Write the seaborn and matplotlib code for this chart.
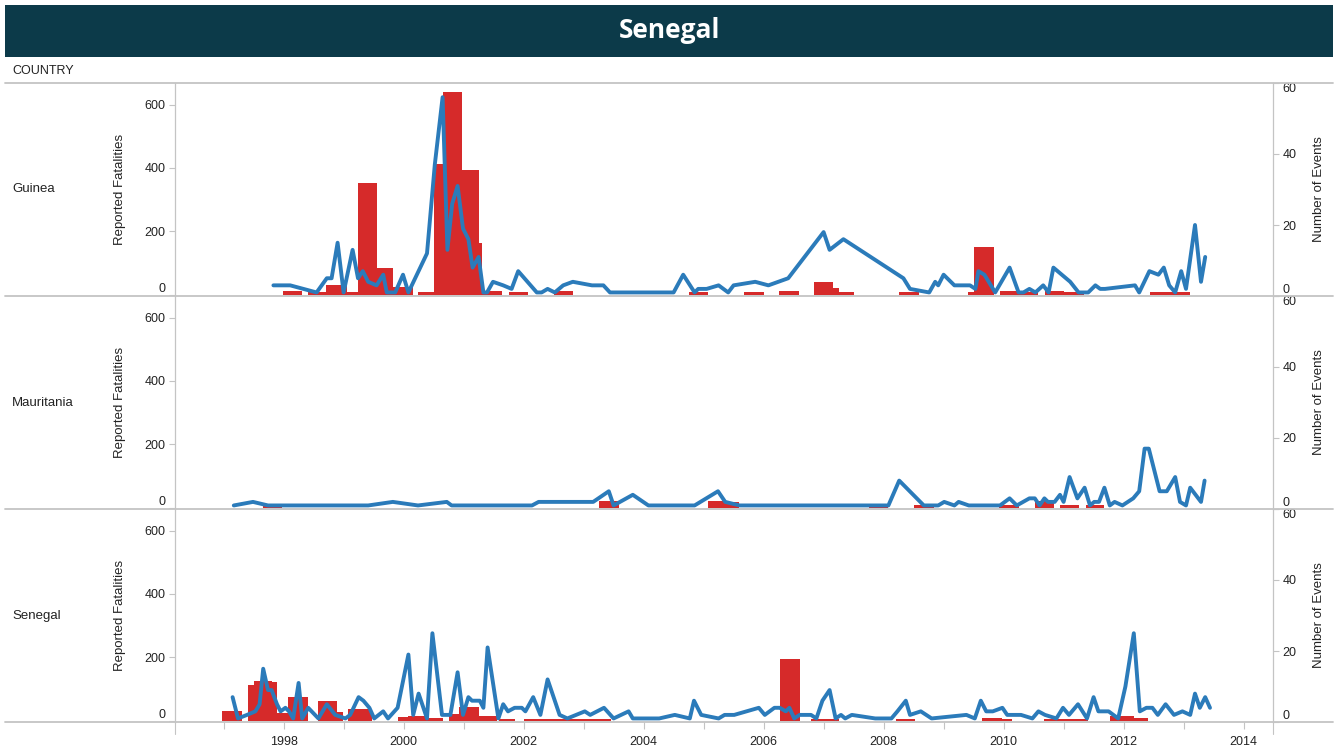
import matplotlib
matplotlib.use("Agg")
import matplotlib.pyplot as plt
from matplotlib.lines import Line2D
from matplotlib.patches import Rectangle
from matplotlib.ticker import MultipleLocator, FuncFormatter
import seaborn as sns
import pandas as pd

# Data (decimal years)
countries = ["Guinea", "Mauritania", "Senegal"]

# Number of events (line, right axis)
guinea_ev_x = [1997.83, 1998.11, 1998.33, 1998.55, 1998.72, 1998.80, 1998.90, 1999.00, 1999.15, 1999.24,
               1999.32, 1999.41, 1999.55, 1999.66, 1999.72, 1999.86, 1999.99, 2000.08, 2000.39, 2000.52,
               2000.65, 2000.73, 2000.81, 2000.90, 2000.99, 2001.08, 2001.15, 2001.25, 2001.33, 2001.39,
               2001.49, 2001.66, 2001.80, 2001.91, 2002.22, 2002.30, 2002.40, 2002.52, 2002.66, 2002.82,
               2003.14, 2003.33, 2003.44, 2004.50, 2004.66, 2004.85, 2004.91, 2005.05, 2005.25, 2005.41,
               2005.50, 2005.86, 2006.08, 2006.41, 2007.00, 2007.10, 2007.33, 2008.33, 2008.44, 2008.76,
               2008.86, 2008.91, 2009.00, 2009.18, 2009.44, 2009.53, 2009.58, 2009.68, 2009.86, 2010.10,
               2010.25, 2010.33, 2010.43, 2010.53, 2010.66, 2010.75, 2010.83, 2011.11, 2011.25, 2011.41,
               2011.53, 2011.61, 2011.69, 2012.19, 2012.26, 2012.43, 2012.58, 2012.67, 2012.76, 2012.86,
               2012.96, 2013.04, 2013.19, 2013.29, 2013.36]
guinea_ev_y = [3, 3, 2, 1, 5, 5, 15, 1, 13, 5,
               7, 4, 3, 6, 1, 1, 6, 1, 12, 37,
               56, 13, 26, 31, 19, 16, 8, 11, 1, 1,
               4, 3, 2, 7, 1, 1, 2, 1, 3, 4,
               3, 3, 1, 1, 6, 1, 2, 2, 3, 1,
               3, 4, 3, 5, 18, 13, 16, 5, 2, 1,
               4, 3, 6, 3, 3, 2, 7, 6, 1, 8,
               1, 1, 2, 1, 3, 1, 8, 4, 1, 1,
               3, 2, 2, 3, 1, 7, 6, 8, 3, 1,
               7, 2, 20, 4, 11]

mauritania_ev_x = [1997.17, 1997.49, 1997.74, 1999.41, 1999.82, 2000.24, 2000.72, 2000.80, 2002.14, 2002.25,
                   2003.16, 2003.42, 2003.50, 2003.82, 2004.08, 2004.85, 2005.24, 2005.36, 2005.60, 2008.08,
                   2008.26, 2008.67, 2008.91, 2009.01, 2009.18, 2009.25, 2009.42, 2009.94, 2010.10, 2010.22,
                   2010.43, 2010.52, 2010.60, 2010.68, 2010.74, 2010.85, 2010.94, 2011.00, 2011.10, 2011.23,
                   2011.35, 2011.44, 2011.51, 2011.59, 2011.68, 2011.77, 2011.85, 2011.98, 2012.16, 2012.26,
                   2012.35, 2012.42, 2012.60, 2012.72, 2012.86, 2012.94, 2013.04, 2013.11, 2013.29, 2013.35]
mauritania_ev_y = [1, 2, 1, 1, 2, 1, 2, 1, 1, 2,
                   2, 5, 1, 4, 1, 1, 5, 2, 1, 1,
                   8, 1, 1, 2, 1, 2, 1, 1, 3, 1,
                   3, 3, 1, 3, 2, 2, 4, 2, 9, 3,
                   6, 1, 2, 2, 6, 1, 2, 1, 3, 5,
                   17, 17, 5, 5, 9, 2, 1, 6, 2, 8]

senegal_ev_x = [1997.15, 1997.24, 1997.39, 1997.53, 1997.60, 1997.66, 1997.74, 1997.80, 1997.89, 1997.95,
                1998.03, 1998.09, 1998.16, 1998.25, 1998.31, 1998.41, 1998.58, 1998.72, 1998.86, 1999.03,
                1999.11, 1999.25, 1999.33, 1999.43, 1999.51, 1999.66, 1999.74, 1999.90, 2000.08, 2000.16,
                2000.25, 2000.39, 2000.48, 2000.64, 2000.78, 2000.90, 2000.99, 2001.08, 2001.14, 2001.19,
                2001.27, 2001.33, 2001.40, 2001.58, 2001.66, 2001.74, 2001.85, 2001.97, 2002.03, 2002.16,
                2002.28, 2002.40, 2002.60, 2002.73, 2003.02, 2003.11, 2003.34, 2003.50, 2003.75, 2003.82,
                2004.26, 2004.52, 2004.77, 2004.84, 2004.96, 2005.25, 2005.35, 2005.51, 2005.92, 2006.02,
                2006.18, 2006.27, 2006.37, 2006.43, 2006.51, 2006.60, 2006.79, 2006.88, 2006.98, 2007.10,
                2007.20, 2007.29, 2007.36, 2007.47, 2007.86, 2008.13, 2008.23, 2008.37, 2008.44, 2008.62,
                2008.80, 2009.38, 2009.52, 2009.62, 2009.71, 2009.82, 2009.98, 2010.06, 2010.29, 2010.48,
                2010.58, 2010.69, 2010.88, 2010.99, 2011.09, 2011.24, 2011.39, 2011.50, 2011.58, 2011.75,
                2011.91, 2012.03, 2012.17, 2012.27, 2012.38, 2012.48, 2012.57, 2012.70, 2012.84, 2012.98,
                2013.11, 2013.19, 2013.27, 2013.36, 2013.44]
senegal_ev_y = [7, 1, 2, 3, 5, 15, 9, 9, 5, 3,
                4, 3, 1, 11, 1, 4, 1, 5, 2, 1,
                2, 7, 6, 4, 1, 3, 1, 4, 19, 2,
                8, 1, 25, 2, 2, 14, 2, 7, 6, 6,
                6, 4, 21, 1, 5, 3, 4, 4, 3, 7,
                2, 12, 2, 1, 3, 2, 4, 1, 3, 1,
                1, 2, 1, 6, 2, 1, 2, 2, 4, 2,
                4, 4, 3, 4, 1, 2, 2, 1, 6, 9,
                1, 2, 1, 2, 1, 1, 3, 6, 2, 3,
                1, 2, 1, 6, 3, 3, 4, 2, 2, 1,
                3, 2, 1, 4, 2, 5, 1, 7, 3, 3,
                1, 10, 25, 3, 4, 4, 2, 5, 2, 3,
                2, 8, 4, 7, 4]

# Reported fatalities (bars, left axis): period start, period end, value
guinea_fat_start = [1997.99, 1998.41, 1998.71, 1999.06, 1999.24, 1999.55, 1999.83, 2000.24, 2000.50, 2000.65,
                    2000.98, 2001.25, 2001.31, 2001.75, 2002.50, 2004.75, 2005.68, 2006.26, 2006.84, 2007.16,
                    2007.26, 2008.26, 2009.41, 2009.51, 2009.94, 2010.28, 2010.69, 2011.01, 2012.44, 2012.78]
guinea_fat_end = [1998.31, 1998.71, 1999.06, 1999.24, 1999.55, 1999.83, 2000.16, 2000.50, 2000.65, 2000.98,
                  2001.25, 2001.31, 2001.64, 2002.07, 2002.83, 2005.08, 2006.01, 2006.59, 2007.16, 2007.26,
                  2007.50, 2008.59, 2009.51, 2009.84, 2010.28, 2010.58, 2011.01, 2011.34, 2012.78, 2013.11]
guinea_fat = [12, 8, 32, 8, 353, 83, 25, 8, 412, 639,
              394, 162, 12, 8, 12, 8, 8, 12, 40, 20,
              8, 8, 8, 150, 12, 8, 12, 8, 8, 8]

mauritania_fat_start = [1997.65, 2003.26, 2005.08, 2005.41, 2007.75, 2008.51, 2009.92, 2010.52, 2010.94, 2011.37]
mauritania_fat_end = [1997.98, 2003.59, 2005.41, 2005.59, 2008.08, 2008.84, 2010.25, 2010.84, 2011.25, 2011.68]
mauritania_fat = [8, 21, 21, 18, 8, 10, 8, 21, 8, 10]

senegal_fat_start = [1996.98, 1997.40, 1997.51, 1997.80, 1997.89, 1998.07, 1998.57, 1998.89, 1999.08, 1999.91,
                     2000.08, 2000.41, 2000.75, 2000.92, 2001.25, 2001.59, 2002.00, 2002.48, 2006.27, 2006.79,
                     2008.21, 2009.64, 2009.98, 2010.68, 2011.15, 2011.77, 2012.17]
senegal_fat_end = [1997.31, 1997.51, 1997.80, 1997.89, 1998.07, 1998.40, 1998.89, 1998.99, 1999.47, 2000.08,
                   2000.41, 2000.65, 2000.92, 2001.25, 2001.55, 2001.86, 2002.48, 2003.46, 2006.60, 2007.26,
                   2008.52, 2009.98, 2010.14, 2011.15, 2011.40, 2012.17, 2012.41]
senegal_fat = [30, 112, 126, 122, 25, 75, 63, 28, 36, 12,
               15, 10, 20, 42, 15, 6, 7, 6, 196, 7,
               7, 9, 6, 7, 6, 15, 8]

events = {
    "Guinea": pd.DataFrame({"date": guinea_ev_x, "events": guinea_ev_y}),
    "Mauritania": pd.DataFrame({"date": mauritania_ev_x, "events": mauritania_ev_y}),
    "Senegal": pd.DataFrame({"date": senegal_ev_x, "events": senegal_ev_y}),
}
fatalities = {
    "Guinea": pd.DataFrame({"start": guinea_fat_start, "end": guinea_fat_end, "fat": guinea_fat}),
    "Mauritania": pd.DataFrame({"start": mauritania_fat_start, "end": mauritania_fat_end, "fat": mauritania_fat}),
    "Senegal": pd.DataFrame({"start": senegal_fat_start, "end": senegal_fat_end, "fat": senegal_fat}),
}

sns.set_style("white")
plt.rcParams["font.family"] = ["Liberation Sans", "DejaVu Sans"]

W, H = 1338, 753
fig = plt.figure(figsize=(W / 100, H / 100), dpi=100)

BLUE = "#2b7bba"
RED = "#d62a2a"
GRID = "#c4c4c4"
TXT = "#222222"

# title banner
fig.patches.append(Rectangle((5 / W, 1 - 57 / H), 1328 / W, 52 / H, transform=fig.transFigure,
                             facecolor="#0c3a49", edgecolor="none", zorder=0))
fig.text(669 / W, 1 - 31 / H, "Senegal", color="white", fontsize=19, fontweight="bold",
         ha="center", va="center", family=["Open Sans", "DejaVu Sans"])
fig.text(12 / W, 1 - 71 / H, "COUNTRY", fontsize=9, color=TXT, va="center")

left_px, right_px = 175, 1273
tops = [83, 296, 509]
ph = 213

for i, c in enumerate(countries):
    top = tops[i]
    ax = fig.add_axes([left_px / W, 1 - (top + ph) / H, (right_px - left_px) / W, ph / H])
    fd = fatalities[c]
    ax.bar(fd["start"], fd["fat"], width=fd["end"] - fd["start"], align="edge",
           color=RED, linewidth=0, zorder=2)
    ax.set_xlim(1996.19, 2014.49)
    ax.set_ylim(-4, 668)
    ax.set_yticks([0, 200, 400, 600])
    ax.set_yticklabels(["0", "200", "400", "600"])
    ax.get_yticklabels()[0].set_va("bottom")
    ax.set_ylabel("Reported Fatalities", fontsize=9.5, color=TXT)
    ax.yaxis.set_label_coords(-0.045, 0.5)

    ax2 = ax.twinx()
    sns.lineplot(data=events[c], x="date", y="events", ax=ax2, color=BLUE, linewidth=2.8,
                 solid_joinstyle="round", solid_capstyle="round", zorder=3)
    ax2.set_ylim(0, 60)
    ax2.set_yticks([0, 20, 40, 60])
    ax2.set_yticklabels(["0", "20", "40", "60"])
    ax2.get_yticklabels()[0].set_va("bottom")
    ax2.get_yticklabels()[-1].set_va("top")
    ax2.set_ylabel("Number of Events", fontsize=9.5, color=TXT)
    ax2.yaxis.set_label_coords(1.036, 0.5)

    for a in (ax, ax2):
        for s in ("top", "bottom"):
            a.spines[s].set_visible(False)
        a.spines["left"].set_color(GRID)
        a.spines["right"].set_color(GRID)
        a.tick_params(axis="y", length=4, width=0.8, color=GRID, labelsize=9, labelcolor=TXT, pad=3)
        a.set_xlabel("")
    ax.patch.set_alpha(0)

    if i < 2:
        ax.tick_params(axis="x", bottom=False, labelbottom=False)
    else:
        ax.xaxis.set_major_locator(MultipleLocator(2))
        ax.xaxis.set_minor_locator(MultipleLocator(1))
        ax.xaxis.set_major_formatter(FuncFormatter(lambda v, p: f"{int(round(v))}"))
        ax.tick_params(axis="x", which="both", bottom=True, length=5, width=0.8, color=GRID,
                       labelsize=9, labelcolor=TXT, pad=5)
    ax2.tick_params(axis="x", bottom=False, labelbottom=False)

    fig.text(12 / W, 1 - (top + ph / 2) / H, c, fontsize=9.5, color=TXT, va="center")

# separators and the axis lines running past the last panel
for y in [83, 296, 509, 722]:
    fig.add_artist(Line2D([5 / W, 1333 / W], [1 - y / H, 1 - y / H], color=GRID, linewidth=1.3))
for x in [left_px, right_px]:
    fig.add_artist(Line2D([x / W, x / W], [1 - 722 / H, 1 - 734 / H], color=GRID, linewidth=0.8))

fig.savefig("out.png", dpi=100)
